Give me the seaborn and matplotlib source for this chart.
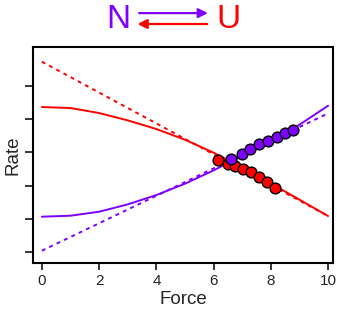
import matplotlib
matplotlib.use("Agg")
import matplotlib.pyplot as plt
import seaborn as sns
import pandas as pd

# Data
force_grid = [0, 1, 2, 3, 4, 5, 6, 7, 8, 9, 10]
red_solid = [4.36, 4.33, 4.18, 3.96, 3.70, 3.38, 2.99, 2.55, 2.07, 1.58, 1.09]
purple_solid = [1.07, 1.10, 1.22, 1.44, 1.72, 2.06, 2.46, 2.90, 3.33, 3.83, 4.40]
dash_force = [0, 10]
red_dashed = [5.72, 1.09]
purple_dashed = [0.05, 4.17]

red_pts_x = [6.16, 6.49, 6.75, 7.04, 7.30, 7.59, 7.86, 8.15]
red_pts_y = [2.77, 2.65, 2.59, 2.50, 2.41, 2.25, 2.10, 1.94]
purple_pts_x = [6.60, 6.98, 7.27, 7.59, 7.91, 8.21, 8.50, 8.77]
purple_pts_y = [2.80, 2.95, 3.09, 3.25, 3.35, 3.47, 3.59, 3.67]

y_ticks = [0, 1, 2, 3, 4, 5]
x_ticks = [0, 2, 4, 6, 8, 10]

RED = "#FF0000"
PURPLE = "#8000FF"

sns.set_style("ticks")
plt.rcParams["font.family"] = ["Liberation Sans", "DejaVu Sans"]

fig = plt.figure(figsize=(3.37, 3.2), dpi=100)
ax = fig.add_axes([0.098, 0.178, 0.89, 0.675])

df_solid = pd.DataFrame({"Force": force_grid, "red": red_solid, "purple": purple_solid})
df_dash = pd.DataFrame({"Force": dash_force, "red": red_dashed, "purple": purple_dashed})

sns.lineplot(data=df_dash, x="Force", y="red", ax=ax, color=RED, lw=1.4,
             linestyle=(0, (2, 2.2)))
sns.lineplot(data=df_dash, x="Force", y="purple", ax=ax, color=PURPLE, lw=1.4,
             linestyle=(0, (2, 2.2)))
sns.lineplot(data=df_solid, x="Force", y="red", ax=ax, color=RED, lw=1.4)
sns.lineplot(data=df_solid, x="Force", y="purple", ax=ax, color=PURPLE, lw=1.4)

sns.scatterplot(x=red_pts_x, y=red_pts_y, ax=ax, color=RED, s=60,
                edgecolor="black", linewidth=1.0, zorder=5)
sns.scatterplot(x=purple_pts_x, y=purple_pts_y, ax=ax, color=PURPLE, s=60,
                edgecolor="black", linewidth=1.0, zorder=6)

ax.set_xlim(-0.31, 10.17)
ax.set_ylim(-0.32, 6.16)
ax.set_xticks(x_ticks)
ax.set_yticks(y_ticks)
ax.set_yticklabels([])
ax.set_xlabel("Force", fontsize=13.5, labelpad=2)
ax.set_ylabel("Rate", fontsize=13.5)
ax.yaxis.set_label_coords(-0.037, 0.5)
ax.tick_params(axis="x", labelsize=11, length=5, width=1.3, direction="out", pad=3)
ax.tick_params(axis="y", length=6, width=1.3, direction="out")
for s in ax.spines.values():
    s.set_visible(True)
    s.set_linewidth(1.5)
    s.set_color("black")

# Header: N <=> U
fig.text(0.350, 0.9375, "N", color=PURPLE, fontsize=24, ha="center", va="center")
fig.text(0.678, 0.9375, "U", color=RED, fontsize=24, ha="center", va="center")
ax.annotate("", xy=(0.617, 0.959), xytext=(0.413, 0.959), xycoords="figure fraction",
            arrowprops=dict(arrowstyle="-|>", color=PURPLE, lw=1.6, mutation_scale=14,
                            shrinkA=0, shrinkB=0))
ax.annotate("", xy=(0.408, 0.925), xytext=(0.615, 0.925), xycoords="figure fraction",
            arrowprops=dict(arrowstyle="-|>", color=RED, lw=1.6, mutation_scale=14,
                            shrinkA=0, shrinkB=0))

fig.savefig("out.png", dpi=100)
